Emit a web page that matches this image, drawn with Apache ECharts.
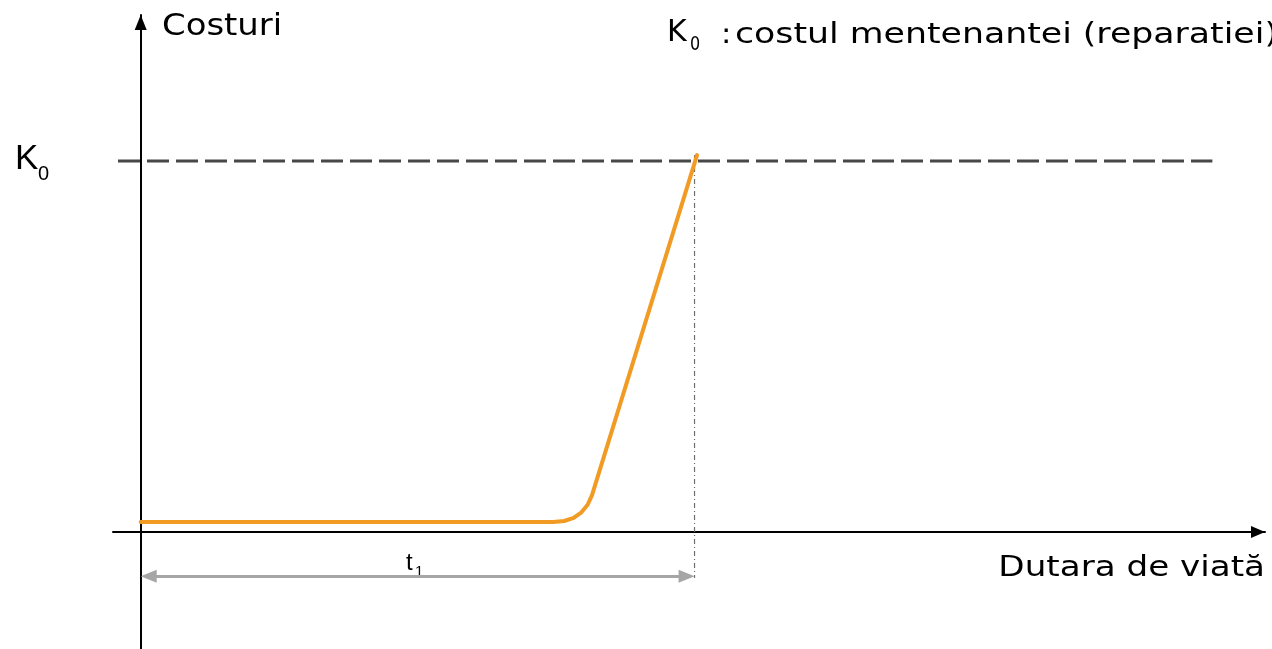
<!DOCTYPE html>
<html>
<head>
<meta charset="utf-8">
<script src="https://cdn.jsdelivr.net/npm/echarts@6/dist/echarts.min.js"></script>
<style>
html,body{margin:0;padding:0;background:#fff;}
#chart{width:1272px;height:649px;}
</style>
</head>
<body>
<div id="chart"></div>
<script>
// ---- data (axis units: lifetime t, cost K) ----
const lifetime = [0, 74.45, 76.47, 78.17, 79.58, 80.70, 81.49, 100.45];
const cost     = [2.7, 2.70, 2.99, 3.85, 5.34, 7.36, 9.97, 101.6];
const K0 = 100;             // maintenance (repair) cost level
const t1 = 100;             // lifetime t1
const k0LineFrom = -4.1;    // extent of dashed K0 line (lifetime units)
const k0LineTo = 193.5;
const t1DropBottom = -12.4; // lower end of the dotted line at t1 (cost units)
const t1ArrowLevel = -11.9; // level of the t1 dimension arrow (cost units)
const xRange = [-5, 203];
const yRange = [-31.5, 139.35];

const GRID_W = 1152;
const ARROW_LEN = 16;       // px length of the dimension arrow heads
const inset = (ARROW_LEN / 2) / (GRID_W / (xRange[1] - xRange[0]));

const curveData = lifetime.map((t, i) => [t, cost[i]]);
const k0Line = [[k0LineFrom, K0], [k0LineTo, K0]];
const t1Drop = [[t1, cost[cost.length - 1]], [t1, t1DropBottom]];

const chart = echarts.init(document.getElementById('chart'), null, {renderer: 'canvas'});
const sans = 'DejaVu Sans';
const arial = 'Liberation Sans';
const f = (size, fam) => size + 'px "' + fam + '"';

chart.setOption({
  animation: false,
  backgroundColor: '#ffffff',
  grid: {left: 113, top: 15, width: GRID_W, bottom: 0, containLabel: false},
  xAxis: {
    type: 'value', min: xRange[0], max: xRange[1],
    axisLine: {show: true, onZero: true, symbol: ['none', 'triangle'], symbolSize: [12, 14],
      symbolOffset: [0, -7], lineStyle: {color: '#000', width: 2}},
    axisTick: {show: false}, axisLabel: {show: false}, splitLine: {show: false}
  },
  yAxis: {
    type: 'value', min: yRange[0], max: yRange[1],
    axisLine: {show: true, onZero: true, symbol: ['none', 'triangle'], symbolSize: [12, 15],
      symbolOffset: [0, -7.5], lineStyle: {color: '#000', width: 2}},
    axisTick: {show: false}, axisLabel: {show: false}, splitLine: {show: false}
  },
  series: [
    {
      type: 'line', data: k0Line, symbol: 'none', silent: true, z: 2,
      lineStyle: {color: '#474747', width: 3, type: [22, 7]}
    },
    {
      type: 'line', data: t1Drop, symbol: 'none', silent: true, z: 2,
      lineStyle: {color: '#6e6e6e', width: 1.2, type: [5, 3, 1, 3]}
    },
    {
      type: 'line', data: curveData, symbol: 'none', silent: true, z: 3,
      lineStyle: {color: '#f29b24', width: 4, cap: 'round', join: 'round'},
      markLine: {
        silent: true, animation: false,
        symbol: ['triangle', 'triangle'], symbolSize: [13, ARROW_LEN],
        lineStyle: {color: '#a6a6a6', width: 3, type: 'solid'},
        label: {show: false},
        data: [[{coord: [0 + inset, t1ArrowLevel]}, {coord: [t1 - inset, t1ArrowLevel]}]]
      }
    }
  ],
  graphic: [
    {type: 'text', x: 162, y: 27, silent: true, scaleX: 1.13,
      style: {text: 'Costuri', font: f(30, sans), fill: '#000', align: 'left', verticalAlign: 'middle'}},
    {type: 'text', x: 667, y: 33, silent: true,
      style: {text: 'K', font: f(30, sans), fill: '#000', align: 'left', verticalAlign: 'middle'}},
    {type: 'text', x: 690, y: 45, silent: true, scaleX: 0.8,
      style: {text: '0', font: f(20, sans), fill: '#000', align: 'left', verticalAlign: 'middle'}},
    {type: 'text', x: 721, y: 36, silent: true, scaleX: 1.1,
      style: {text: ':', font: f(28, sans), fill: '#000', align: 'left', verticalAlign: 'middle'}},
    {type: 'text', x: 735, y: 36, silent: true, scaleX: 1.24,
      style: {text: 'costul mentenantei (reparatiei)', font: f(28, sans), fill: '#000', align: 'left', verticalAlign: 'middle'}},
    {type: 'text', x: 15, y: 159, silent: true,
      style: {text: 'K', font: f(35, arial), fill: '#000', align: 'left', verticalAlign: 'middle'}},
    {type: 'text', x: 38, y: 174, silent: true,
      style: {text: '0', font: f(20, arial), fill: '#000', align: 'left', verticalAlign: 'middle'}},
    {type: 'text', x: 406, y: 563, silent: true,
      style: {text: 't', font: f(24, arial), fill: '#000', align: 'left', verticalAlign: 'middle'}},
    {type: 'text', x: 415, y: 572, silent: true,
      style: {text: '1', font: f(15, arial), fill: '#000', align: 'left', verticalAlign: 'middle'}},
    {type: 'text', x: 1265, y: 569, silent: true, scaleX: 1.22,
      style: {text: 'Dutara de viată', font: f(28, sans), fill: '#000', align: 'right', verticalAlign: 'middle'}}
  ]
});
</script>
</body>
</html>
